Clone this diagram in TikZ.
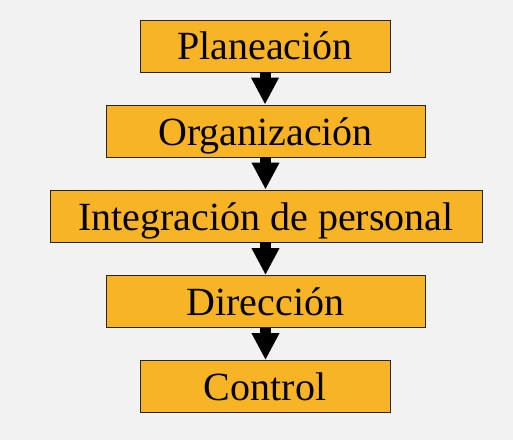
\documentclass[tikz,border=0pt]{standalone}
\usepackage{fontspec}
\setmainfont{Liberation Serif}
\usetikzlibrary{arrows.meta}
\definecolor{bgc}{HTML}{F2F2F2}
\definecolor{boxc}{HTML}{F8B425}
\begin{document}
\begin{tikzpicture}[x=1pt,y=1pt,
  stagebox/.style={draw=black!85,line width=0.9pt,fill=boxc,inner sep=0pt,
    minimum height=52pt,text height=34pt,text depth=6pt,
    font=\fontsize{40}{45}\selectfont},
  flowarrow/.style={line width=11pt,-{Triangle[width=26pt,length=27pt]}}]
\fill[bgc] (0,0) rectangle (513,440);
\useasboundingbox (0,0) rectangle (513,440);
\node[stagebox,minimum width=250pt] (p) at (265,394) {Planeación};
\node[stagebox,minimum width=319pt] (o) at (265.5,309) {Organización};
\node[stagebox,minimum width=432pt] (i) at (266,224) {Integración de personal};
\node[stagebox,minimum width=319pt] (d) at (265.5,138.5) {Dirección};
\node[stagebox,minimum width=250pt] (c) at (265,53.5) {Control};
\draw[flowarrow] (p.south) -- (p.south |- o.north);
\draw[flowarrow] (o.south) -- (o.south |- i.north);
\draw[flowarrow] (i.south -| o.south) -- (o.south |- d.north);
\draw[flowarrow] (d.south) -- (d.south |- c.north);
\end{tikzpicture}
\end{document}
